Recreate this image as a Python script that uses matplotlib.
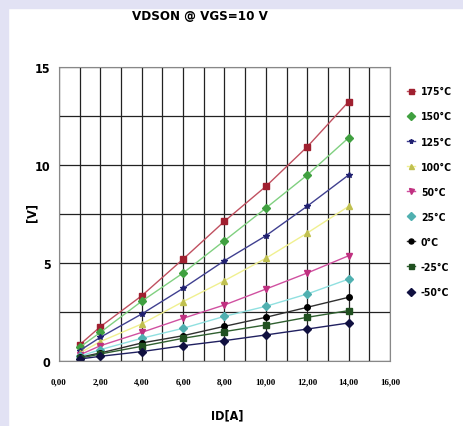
import numpy as np
import matplotlib.pyplot as plt

# valeurs
id_a = [1, 2, 4, 6, 8, 10, 12, 14]
labels = ['175°C', '150°C', '125°C', '100°C', '50°C', '25°C', '0°C', '-25°C', '-50°C']
v175 = [0.83, 1.75, 3.33, 5.20, 7.13, 8.91, 10.93, 13.23]
v150 = [0.70, 1.46, 3.05, 4.49, 6.14, 7.80, 9.49, 11.39]
v125 = [0.53, 1.21, 2.40, 3.71, 5.12, 6.39, 7.90, 9.49]
v100 = [0.41, 0.99, 1.89, 3.03, 4.10, 5.24, 6.53, 7.89]
v50 = [0.31, 0.78, 1.46, 2.18, 2.86, 3.67, 4.49, 5.37]
v25 = [0.24, 0.58, 1.16, 1.67, 2.28, 2.79, 3.42, 4.18]
v0 = [0.19, 0.41, 0.92, 1.29, 1.77, 2.23, 2.74, 3.25]
vm25 = [0.14, 0.36, 0.75, 1.16, 1.50, 1.84, 2.23, 2.57]
vm50 = [0.10, 0.24, 0.48, 0.78, 1.04, 1.33, 1.63, 1.94]

series = [v175, v150, v125, v100, v50, v25, v0, vm25, vm50]
line_cols = ['#c05060', '#80d080', '#404090', '#f0f090', '#d050a0', '#90e0e0', '#303030', '#306030', '#202060']
mark_cols = ['#a02030', '#40a040', '#202070', '#c0c050', '#c03080', '#50b0b0', '#000000', '#205020', '#101040']
markers = ['s', 'D', '*', '^', 'v', 'D', 'o', 's', 'D']

narrow = dict(family='DejaVu Sans', stretch='condensed', weight='bold')

fig = plt.figure(figsize=(4.64, 4.27), dpi=100)
fig.patch.set_facecolor('white')
# bande lavande en haut et a gauche
fig.add_artist(plt.Rectangle((0, 0), 8 / 464, 1, transform=fig.transFigure, color='#e2e2f4', zorder=-10))
fig.add_artist(plt.Rectangle((0, 1 - 9 / 427), 1, 9 / 427, transform=fig.transFigure, color='#e2e2f4', zorder=-10))

ax = fig.add_axes([59 / 464, 1 - 362 / 427, 331 / 464, 294 / 427])
for y, lab, lc, mc, m in zip(series, labels, line_cols, mark_cols, markers):
    ax.plot(id_a, y, '-', color=lc, lw=1.0, marker=m, ms=4, mfc=mc, mec=mc, label=lab)

ax.set_xlim(0, 16)
ax.set_ylim(0, 15)
ax.set_xticks(np.arange(0, 17, 1), minor=True)
ax.set_xticks(np.arange(0, 17, 2))
ax.set_xticklabels(['%d,00' % v for v in range(0, 17, 2)], fontsize=6.5, family='Liberation Serif', fontweight='bold')
ax.set_yticks([0, 5, 10, 15])
ax.set_yticks(np.arange(0, 15.1, 2.5), minor=True)
ax.set_yticklabels(['0', '5', '10', '15'], fontsize=9, **narrow)
ax.grid(True, which='both', color='#222222', lw=0.9)
ax.tick_params(which='both', length=0, pad=6)
ax.tick_params(axis='x', pad=12)
for s in ax.spines.values():
    s.set_color('#888888')

fig.text(200 / 464, 1 - 16 / 427, 'VDSON @ VGS=10 V', ha='center', va='center', fontsize=9.5, **narrow)
fig.text(227 / 464, 1 - 416 / 427, 'ID[A]', ha='center', va='center', fontsize=9, **narrow)
fig.text(32 / 464, 1 - 213 / 427, '[V]', ha='center', va='center', rotation=90, fontsize=9, **narrow)

ax.legend(loc='upper left', bbox_to_anchor=(398 / 464, 1 - 78 / 427), bbox_transform=fig.transFigure,
          frameon=False, prop={'family': 'DejaVu Sans', 'stretch': 'condensed', 'weight': 'bold', 'size': 7.5},
          handlelength=0.7, handletextpad=0.6, labelspacing=1.45, numpoints=1, markerscale=0.9)

plt.savefig('out.png', dpi=100)
